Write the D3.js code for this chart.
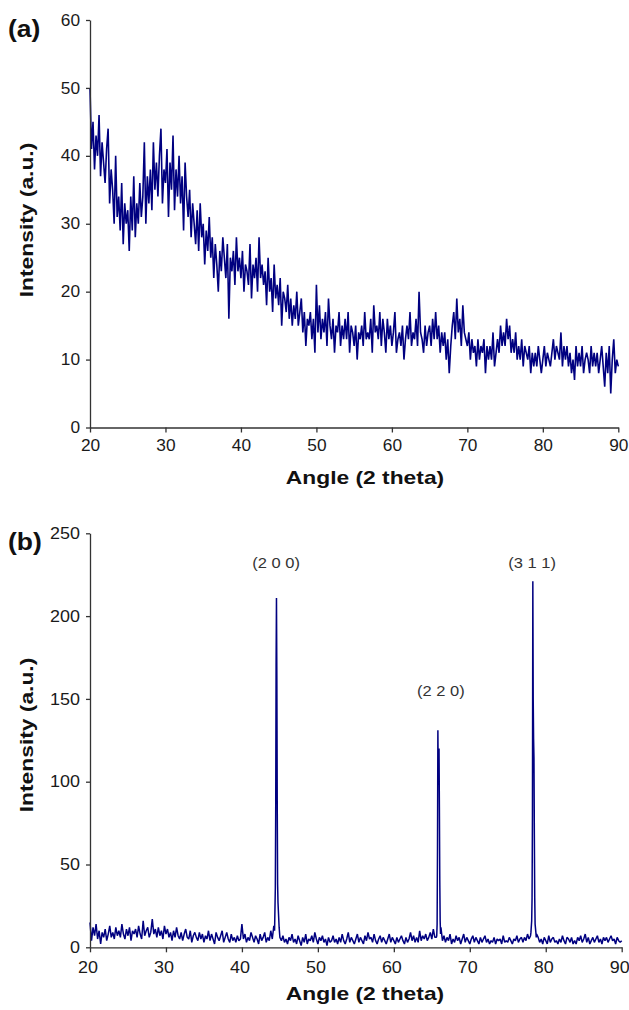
<!DOCTYPE html>
<html>
<head>
<meta charset="utf-8">
<script src="https://cdn.jsdelivr.net/npm/d3@7"></script>
<style>
  body { margin: 0; background: #fff; }
  svg { display: block; font-family: Arial, "Liberation Sans", sans-serif; }
  .axis path, .axis line { stroke: #333; stroke-width: 1.3; }
  .axis text { fill: #1a1a1a; }
</style>
</head>
<body>
<svg id="chart" width="629" height="1010"></svg>
<script>
// scans are sampled every 0.2 degrees from 20 to 90
const ANGLE_START = 20;
const ANGLE_STEP = 0.2;

const angleTicks = [20, 30, 40, 50, 60, 70, 80, 90];
const intensityTicksA = [0, 10, 20, 30, 40, 50, 60];
const intensityTicksB = [0, 50, 100, 150, 200, 250];

// (a) amorphous pattern
const intensityA = [
  50, 41, 45, 38, 43, 40, 46, 37, 42, 39,
  36, 41, 44, 33, 38, 35, 30, 40, 31, 34,
  29, 36, 27, 33, 30, 32, 26, 34, 29, 37,
  28, 33, 30, 36, 31, 34, 42, 30, 37, 33,
  38, 32, 42, 35, 39, 34, 40, 44, 33, 38,
  36, 41, 31, 39, 35, 43, 32, 38, 34, 40,
  33, 37, 29, 39, 34, 31, 35, 28, 33, 30,
  27, 32, 26, 33, 28, 30, 24, 29, 26, 31,
  25, 28, 22, 27, 24, 20, 26, 23, 28, 25,
  22, 27, 16, 25, 23, 26, 21, 28, 23, 25,
  22, 26, 20, 24, 23, 21, 27, 19, 24, 22,
  25, 20, 28, 22, 24, 21, 23, 18, 25, 20,
  22, 17, 24, 19, 21, 18, 22, 15, 20, 19,
  17, 21, 16, 19, 15, 18, 16, 20, 15, 17,
  19, 14, 17, 12, 16, 15, 17, 13, 16, 11,
  21, 14, 18, 13, 16, 14, 17, 12, 19, 15,
  13, 16, 11, 15, 14, 17, 12, 15, 13, 16,
  13, 17, 11, 15, 14, 12, 15, 10, 14, 13,
  15, 12, 17, 13, 14, 13, 16, 11, 18, 14,
  15, 13, 17, 12, 16, 14, 11, 16, 13, 15,
  12, 14, 17, 11, 13, 14, 12, 15, 10, 13,
  15, 13, 17, 12, 14, 13, 16, 12, 20, 14,
  13, 11, 15, 12, 14, 15, 12, 16, 13, 17,
  13, 15, 11, 14, 12, 14, 10, 13, 8, 12,
  15, 17, 13, 19, 14, 16, 12, 18, 14, 13,
  12, 14, 10, 13, 11, 12, 9, 13, 10, 12,
  11, 13, 8, 12, 10, 12, 10, 14, 9, 11,
  13, 11, 15, 12, 14, 12, 16, 13, 15, 11,
  13, 11, 14, 10, 12, 10, 13, 9, 12, 11,
  10, 12, 8, 11, 9, 11, 9, 12, 10, 8,
  10, 12, 9, 11, 10, 9, 11, 13, 10, 12,
  11, 10, 14, 9, 12, 10, 12, 9, 11, 8,
  10, 7, 12, 9, 11, 9, 12, 8, 10, 11,
  10, 8, 12, 9, 11, 9, 11, 8, 10, 12,
  9, 6, 11, 8, 12, 5, 10, 13, 8, 10,
  9,
];

// (b) crystalline pattern: background noise + three reflections
const baselineB = [
  15, 4, 12, 7, 14, 5, 10, 2, 9, 6,
  11, 4, 8, 13, 6, 9, 5, 12, 7, 10,
  6, 14, 8, 5, 11, 7, 12, 4, 10, 8,
  11, 6, 13, 8, 5, 16, 7, 10, 12, 6,
  9, 17, 8, 11, 6, 12, 7, 10, 5, 13,
  8, 11, 6, 9, 4, 10, 6, 12, 7, 5,
  9, 4, 8, 11, 6, 5, 10, 3, 7, 9,
  6, 4, 9, 5, 8, 3, 7, 5, 10, 4,
  8, 5, 2, 9, 6, 4, 7, 10, 3, 6,
  9, 5, 3, 8, 4, 6, 3, 7, 4, 5,
  14, 5, 8, 3, 6, 4, 9, 6, 3, 7,
  5, 2, 8, 4, 6, 9, 3, 6, 4, 10,
  5, 13, 6, 6, 6, 6, 4, 7, 3, 5,
  2, 6, 4, 8, 3, 5, 2, 7, 4, 1,
  6, 3, 8, 2, 5, 4, 7, 3, 9, 5,
  2, 6, 4, 7, 3, 5, 1, 6, 3, 4,
  7, 3, 5, 2, 6, 3, 8, 4, 2, 5,
  9, 3, 6, 4, 2, 5, 8, 3, 6, 4,
  2, 7, 4, 9, 5, 6, 3, 8, 4, 2,
  5, 7, 3, 6, 4, 2, 5, 8, 3, 6,
  4, 2, 6, 3, 5, 7, 4, 2, 6, 3,
  5, 9, 4, 7, 3, 6, 3, 10, 4, 7,
  5, 8, 4, 6, 9, 5, 11, 6, 6, 6,
  6, 12, 4, 7, 3, 6, 4, 8, 2, 5,
  3, 7, 4, 6, 2, 5, 8, 3, 6, 4,
  2, 5, 7, 3, 6, 4, 2, 6, 3, 5,
  7, 3, 5, 2, 4, 3, 6, 2, 5, 4,
  5, 2, 7, 3, 4, 3, 6, 4, 2, 5,
  4, 7, 3, 5, 6, 3, 6, 4, 8, 5,
  7, 10, 5, 5, 8, 6, 3, 5, 2, 6,
  4, 2, 7, 3, 5, 6, 3, 4, 2, 5,
  3, 7, 4, 2, 6, 5, 3, 6, 2, 4,
  2, 6, 4, 7, 3, 5, 8, 3, 6, 2,
  4, 6, 3, 5, 7, 3, 5, 2, 6, 4,
  6, 3, 5, 7, 4, 5, 2, 6, 4, 3,
  4,
];

const peak200Angles = [44.3, 44.4, 44.45, 44.5, 44.55, 44.6, 44.65, 44.7, 44.75, 44.9];
const peak200Values = [10, 36, 84, 170, 211, 163, 88, 38, 27, 12];
const peak220Angles = [65.65, 65.7, 65.75, 65.8, 65.85, 65.9, 65.95, 66.0, 66.05, 66.1, 66.15];
const peak220Values = [7, 14, 60, 131, 100, 98, 120, 83, 40, 16, 8];
const peak311Angles = [78.05, 78.15, 78.2, 78.25, 78.3, 78.35, 78.4, 78.45, 78.5, 78.55, 78.6, 78.7, 78.75];
const peak311Values = [9, 16, 30, 80, 221, 150, 126, 114, 68, 30, 14, 9, 6];

const peakLabels = ["(2 0 0)", "(2 2 0)", "(3 1 1)"];
const peakLabelAngles = [44.5, 66.2, 78.2];
const peakLabelIntensities = [229, 152, 229];

const svg = d3.select("#chart");

// stretch text horizontally, the source figure renders fonts wide
function widen(sel, k) {
  sel.each(function () {
    const w = this.getComputedTextLength();
    d3.select(this)
      .attr("textLength", w * k)
      .attr("lengthAdjust", "spacingAndGlyphs");
  });
}

function drawPanel({ box, data, yDomain, yTicks, tag, titleY, angleTitleY, xPad, xShift, tickFont, tickWiden, lineWidth }) {
  const x = d3.scaleLinear().domain([20, 90]).range([box.left, box.right]);
  const y = d3.scaleLinear().domain(yDomain).range([box.bottom, box.top]);

  const g = svg.append("g");

  const line = d3
    .line()
    .x((d) => x(d[0]))
    .y((d) => y(d[1]));

  g.append("path")
    .datum(data)
    .attr("d", line)
    .attr("fill", "none")
    .attr("stroke", "#000080")
    .attr("stroke-width", lineWidth)
    .attr("stroke-linejoin", "bevel");

  g.append("g")
    .attr("class", "axis")
    .attr("transform", `translate(${box.left},0)`)
    .call(d3.axisLeft(y).tickValues(yTicks).tickSize(4).tickSizeOuter(0).tickPadding(6));

  g.append("g")
    .attr("class", "axis x-axis")
    .attr("transform", `translate(0,${box.bottom})`)
    .call(d3.axisBottom(x).tickValues(angleTicks).tickSize(5).tickSizeOuter(0).tickPadding(xPad));

  g.selectAll(".x-axis text").attr("dx", xShift);
  g.selectAll(".axis text").attr("font-size", tickFont).attr("font-family", "Arial, 'Liberation Sans', sans-serif");
  widen(g.selectAll(".axis text"), tickWiden);

  const yt = g
    .append("text")
    .attr("transform", `translate(33,${titleY}) rotate(-90)`)
    .attr("text-anchor", "middle")
    .attr("font-size", 19)
    .attr("font-weight", "bold")
    .attr("fill", "#111")
    .text("Intensity (a.u.)");
  widen(yt, 1.2);

  const xt = g
    .append("text")
    .attr("x", 365)
    .attr("y", angleTitleY)
    .attr("text-anchor", "middle")
    .attr("font-size", 19)
    .attr("font-weight", "bold")
    .attr("fill", "#111")
    .text("Angle (2 theta)");
  widen(xt, 1.2);

  const lt = g
    .append("text")
    .attr("x", 8)
    .attr("y", box.top + 17)
    .attr("font-size", 23)
    .attr("font-weight", "bold")
    .attr("fill", "#111")
    .text(tag);
  widen(lt, 1.15);

  return { x, y, g };
}

// (a)
const seriesA = intensityA.map((v, i) => [ANGLE_START + i * ANGLE_STEP, v]);

drawPanel({
  box: { left: 90, right: 618.3, top: 20, bottom: 427.5 },
  data: seriesA,
  yDomain: [0, 60],
  yTicks: intensityTicksA,
  tag: "(a)",
  titleY: 220,
  angleTitleY: 484,
  xPad: 7,
  xShift: 0,
  tickFont: 16,
  tickWiden: 1.08,
  lineWidth: 1.6,
});

// (b) merge peaks into the background scan
const peaks = [
  { angles: peak200Angles, values: peak200Values },
  { angles: peak220Angles, values: peak220Values },
  { angles: peak311Angles, values: peak311Values },
];

const seriesB = baselineB
  .map((v, i) => [ANGLE_START + i * ANGLE_STEP, v])
  .filter(([a]) => !peaks.some((p) => a > p.angles[0] && a < p.angles[p.angles.length - 1]))
  .concat(...peaks.map((p) => p.angles.map((a, i) => [a, p.values[i]])))
  .sort((p, q) => p[0] - q[0]);

const panelB = drawPanel({
  box: { left: 90, right: 621.7, top: 533.3, bottom: 947.3 },
  data: seriesB,
  yDomain: [0, 250],
  yTicks: intensityTicksB,
  tag: "(b)",
  titleY: 735,
  angleTitleY: 1000,
  xPad: 9,
  xShift: -2.5,
  tickFont: 16,
  tickWiden: 1.12,
  lineWidth: 1.5,
});

const labels = panelB.g
  .selectAll(".peak-label")
  .data(peakLabels)
  .join("text")
  .attr("class", "peak-label")
  .attr("x", (d, i) => panelB.x(peakLabelAngles[i]))
  .attr("y", (d, i) => panelB.y(peakLabelIntensities[i]))
  .attr("text-anchor", "middle")
  .attr("font-size", 15)
  .attr("fill", "#333")
  .text((d) => d);
widen(labels, 1.1);
</script>
</body>
</html>
